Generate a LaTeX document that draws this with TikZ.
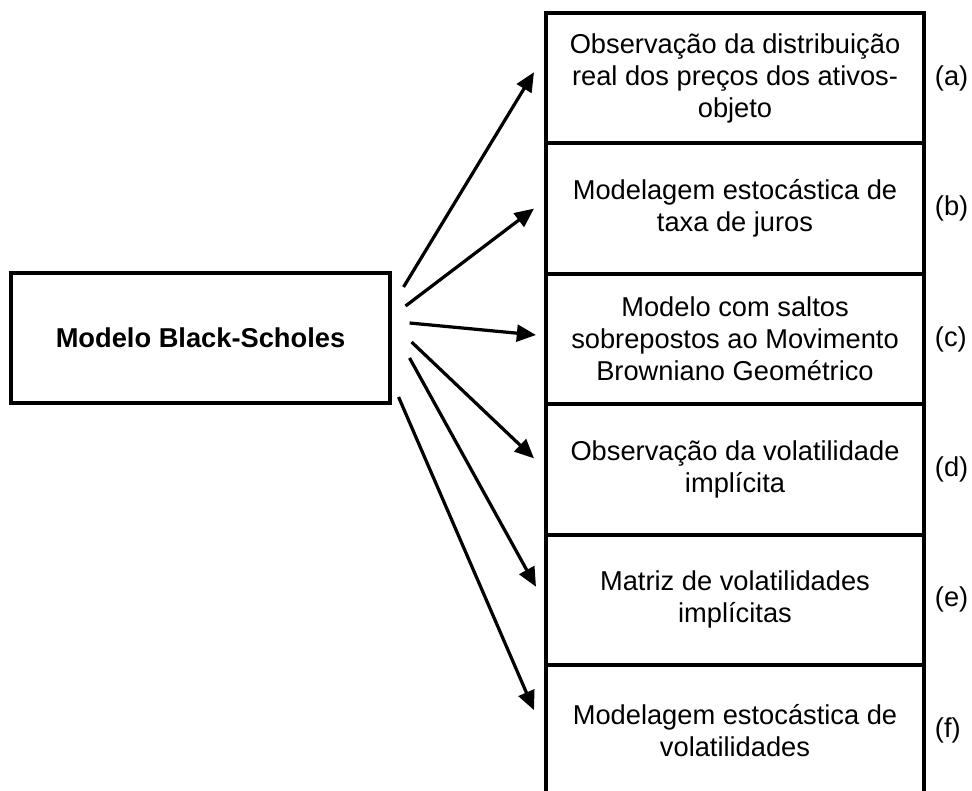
\documentclass[tikz,border=0pt]{standalone}
\usepackage{fontspec}
\setmainfont{Liberation Sans}
\usetikzlibrary{positioning,arrows.meta}

\begin{document}
\begin{tikzpicture}[
  font=\fontsize{19.4}{22.8}\selectfont,
  modelbox/.style={draw, line width=2.2pt, minimum width=9.475cm, minimum height=3.25cm, font=\fontsize{19.4}{22.8}\selectfont\bfseries},
  itembox/.style={draw, line width=2.8pt, outer sep=0pt, inner sep=0pt, minimum width=9.45cm, minimum height=3.26cm, align=center},
  arr/.style={line width=2.3pt, -{Triangle[length=0.48cm,width=0.42cm]}}
]
% Fix the frame
\clip (0,0) rectangle (24.3,19.775);

% Draw the Black-Scholes box
\node[modelbox] (bs) at (5.0125,11.325) {Modelo Black-Scholes};

% Draw the column of boxes
\node[itembox, anchor=north] (a) at (18.375,19.45) {Observação da distribuição\\real dos preços dos ativos-\\objeto};
\node[itembox, below=0pt of a] (b) {Modelagem estocástica de\\taxa de juros};
\node[itembox, below=0pt of b] (c) {Modelo com saltos\\sobrepostos ao Movimento\\Browniano Geométrico};
\node[itembox, below=0pt of c] (d) {Observação da volatilidade\\implícita};
\node[itembox, below=0pt of d] (e) {Matriz de volatilidades\\implícitas};
\node[itembox, below=0pt of e] (f) {Modelagem estocástica de\\volatilidades};

% Add the letters
\node[right=0.15cm of a] (ta) {(a)};
\node[right=0.15cm of b] (tb) {(b)};
\node[right=0.15cm of c] (tc) {(c)};
\node[right=0.15cm of d] (td) {(d)};
\node[right=0.15cm of e] (te) {(e)};
\node[right=0.15cm of f] (tf) {(f)};

% Draw the arrows
\draw[arr] ([xshift=0.3cm, yshift=1.275cm]bs.east) -- ([xshift=-0.3cm, yshift=0.15cm]a.west);
\draw[arr] ([xshift=0.35cm, yshift=0.8cm]bs.east) -- ([xshift=-0.3cm]b.west);
\draw[arr] ([xshift=0.45cm, yshift=0.375cm]bs.east) -- ([xshift=-0.25cm, yshift=0.1cm]c.west);
\draw[arr] ([xshift=0.5cm, yshift=-0.1cm]bs.east) -- ([xshift=-0.3cm, yshift=0.275cm]d.west);
\draw[arr] ([xshift=0.45cm, yshift=-0.5cm]bs.east) -- ([xshift=-0.25cm, yshift=0.325cm]e.west);
\draw[arr] ([xshift=0.175cm, yshift=-1.475cm]bs.east) -- ([xshift=-0.3cm, yshift=0.5cm]f.west);
\end{tikzpicture}
\end{document}
